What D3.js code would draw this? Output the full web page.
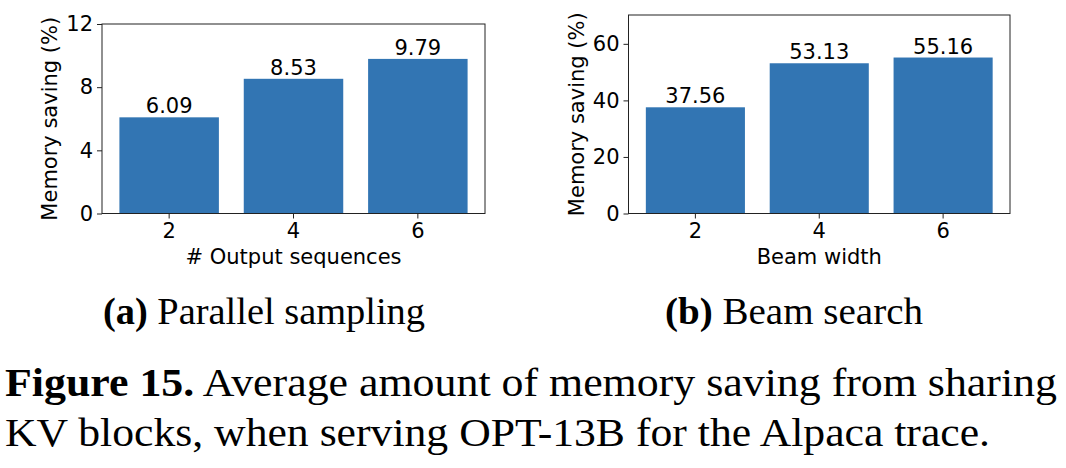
<!DOCTYPE html>
<html>
<head>
<meta charset="utf-8">
<script src="https://cdn.jsdelivr.net/npm/d3@7"></script>
<style>
  html, body { margin: 0; padding: 0; background: #fff; }
  svg { display: block; }
  .tick text { font-family: "DejaVu Sans", sans-serif; }
</style>
</head>
<body>
<div id="chart"></div>
<script>
// chart data
var categories = ["2", "4", "6"];
var parallelValues = [6.09, 8.53, 9.79];
var beamValues = [37.56, 53.13, 55.16];
var parallelTicks = [0, 4, 8, 12];
var beamTicks = [0, 20, 40, 60];

var W = 1066, H = 468;
var barColor = "#3275b3";
var sans = "'DejaVu Sans', sans-serif";
var serif = "'Liberation Serif', 'Times New Roman', serif";
var fs = "21px";

var svg = d3.select("#chart").append("svg")
  .attr("width", W)
  .attr("height", H);

function drawPanel(opts) {
  var x = d3.scaleBand()
    .domain(categories)
    .range([opts.left, opts.right])
    .paddingInner(0.2)
    .paddingOuter(0.14);

  var y = d3.scaleLinear()
    .domain([0, opts.yMax])
    .range([opts.bottom, opts.top]);

  var g = svg.append("g");

  g.selectAll("rect.bar")
    .data(opts.values)
    .enter().append("rect")
    .attr("class", "bar")
    .attr("x", function(d, i) { return x(categories[i]); })
    .attr("width", x.bandwidth())
    .attr("y", function(d) { return y(d); })
    .attr("height", function(d) { return y(0) - y(d); })
    .style("fill", barColor);

  // value labels above bars
  g.selectAll("text.val")
    .data(opts.values)
    .enter().append("text")
    .attr("class", "val")
    .attr("x", function(d, i) { return x(categories[i]) + x.bandwidth() / 2; })
    .attr("y", function(d) { return y(d) - 4; })
    .attr("text-anchor", "middle")
    .style("font-family", sans)
    .style("font-size", fs)
    .style("fill", "#000")
    .text(function(d) { return d.toFixed(2); });

  // frame
  g.append("rect")
    .attr("x", opts.left)
    .attr("y", opts.top)
    .attr("width", opts.right - opts.left)
    .attr("height", opts.bottom - opts.top)
    .style("fill", "none")
    .style("stroke", "#222")
    .style("stroke-width", 1);

  var yAxis = g.append("g")
    .attr("transform", "translate(" + opts.left + ",0)")
    .call(d3.axisLeft(y).tickValues(opts.ticks).tickSize(5).tickPadding(4));
  yAxis.select(".domain").remove();
  yAxis.selectAll(".tick line").style("stroke", "#222");
  yAxis.selectAll(".tick text").style("font-size", fs).style("fill", "#000");

  var xAxis = g.append("g")
    .attr("transform", "translate(0," + opts.bottom + ")")
    .call(d3.axisBottom(x).tickSize(5).tickPadding(5));
  xAxis.select(".domain").remove();
  xAxis.selectAll(".tick line").style("stroke", "#222");
  xAxis.selectAll(".tick text").style("font-size", fs).style("fill", "#000");

  g.append("text")
    .attr("x", (opts.left + opts.right) / 2)
    .attr("y", 264)
    .attr("text-anchor", "middle")
    .style("font-family", sans)
    .style("font-size", fs)
    .style("fill", "#000")
    .text(opts.xLabel);

  g.append("text")
    .attr("transform", "translate(" + opts.yLabelX + "," + ((opts.top + opts.bottom) / 2) + ") rotate(-90)")
    .attr("text-anchor", "middle")
    .style("font-family", sans)
    .style("font-size", fs)
    .style("fill", "#000")
    .text("Memory saving (%)");

  // sub caption
  var sub = g.append("text")
    .attr("x", opts.capX)
    .attr("y", 324)
    .attr("textLength", opts.capW)
    .attr("lengthAdjust", "spacingAndGlyphs")
    .style("font-family", serif)
    .style("font-size", "38px")
    .style("fill", "#000");
  sub.append("tspan").style("font-weight", "bold").text(opts.capTag);
  sub.append("tspan").text(" " + opts.capText);
}

drawPanel({
  values: parallelValues, ticks: parallelTicks, yMax: 12,
  left: 102, right: 485, top: 24, bottom: 213.5,
  xLabel: "# Output sequences", yLabelX: 57,
  capX: 103, capW: 322, capTag: "(a)", capText: "Parallel sampling"
});

drawPanel({
  values: beamValues, ticks: beamTicks, yMax: 70.2,
  left: 628.5, right: 1010, top: 15, bottom: 213.5,
  xLabel: "Beam width", yLabelX: 584,
  capX: 665, capW: 258, capTag: "(b)", capText: "Beam search"
});

// figure caption
var cap1 = svg.append("text")
  .attr("x", 5).attr("y", 396)
  .attr("textLength", 1052)
  .attr("lengthAdjust", "spacingAndGlyphs")
  .style("font-family", serif)
  .style("font-size", "39px")
  .style("fill", "#000");
cap1.append("tspan").style("font-weight", "bold").text("Figure 15.");
cap1.append("tspan").text(" Average amount of memory saving from sharing");

svg.append("text")
  .attr("x", 5).attr("y", 446)
  .attr("textLength", 985)
  .attr("lengthAdjust", "spacingAndGlyphs")
  .style("font-family", serif)
  .style("font-size", "39px")
  .style("fill", "#000")
  .text("KV blocks, when serving OPT-13B for the Alpaca trace.");
</script>
</body>
</html>
